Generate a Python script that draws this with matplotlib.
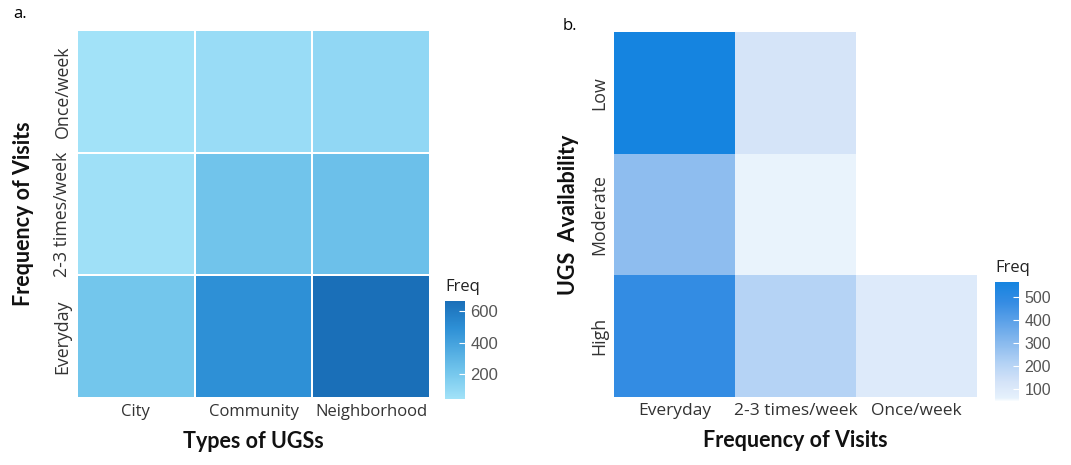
import numpy as np
import matplotlib
matplotlib.use("Agg")
import matplotlib.pyplot as plt
from matplotlib.colors import LinearSegmentedColormap

# ---- Data panel a ----
ugs_types = ["City", "Community", "Neighborhood"]
visit_freq_a = ["Everyday", "2-3 times/week", "Once/week"]  # bottom to top
freq_a_everyday = [215, 490, 663]
freq_a_23 = [55, 225, 245]
freq_a_once = [45, 80, 110]

# ---- Data panel b ----
visit_freq_b = ["Everyday", "2-3 times/week", "Once/week"]
availability = ["High", "Moderate", "Low"]  # bottom to top
freq_b_high = [480, 210, 100]
freq_b_moderate = [290, 62, np.nan]
freq_b_low = [564, 130, np.nan]
freq_b_scale_min = 50

W, H = 1071, 465
fig = plt.figure(figsize=(W / 100, H / 100), dpi=100)

def px_axes(x0, y0, x1, y1):
    return fig.add_axes([x0 / W, (H - y1) / H, (x1 - x0) / W, (y1 - y0) / H])

xtick_font = dict(family="Open Sans", size=12, color="#333333")
ytick_font = dict(family="Open Sans", size=12.8, color="#333333")
title_font = dict(family="Lato", size=15.5, weight="bold", color="#111111")

# ---- Panel a ----
cmap_a = LinearSegmentedColormap.from_list(
    "a", [(0.0, "#a2e2f8"), (0.3, "#6fc3eb"), (0.72, "#2e90d6"), (1.0, "#1a6fb8")])
Za = np.array([freq_a_everyday, freq_a_23, freq_a_once])
axa = px_axes(77, 30, 430, 398)
ma = axa.pcolormesh(np.arange(len(ugs_types) + 1), np.arange(len(visit_freq_a) + 1), Za,
                    cmap=cmap_a, vmin=np.nanmin(Za), vmax=np.nanmax(Za),
                    edgecolors="white", linewidth=1.3)
axa.set_xlim(0, len(ugs_types)); axa.set_ylim(0, len(visit_freq_a))
axa.set_xticks(np.arange(len(ugs_types)) + 0.5)
axa.set_xticklabels(ugs_types, **xtick_font)
axa.set_yticks(np.arange(len(visit_freq_a)) + 0.5)
axa.set_yticklabels(visit_freq_a, rotation=90, va="center", **ytick_font)
axa.tick_params(length=0, pad=4)
for s in axa.spines.values():
    s.set_visible(False)
axa.set_xlabel("Types of UGSs", labelpad=8, **title_font)
axa.set_ylabel("Frequency of Visits", labelpad=14, **title_font)

caxa = px_axes(445, 301, 465, 399)
cba = fig.colorbar(ma, cax=caxa, ticks=[200, 400, 600])
cba.outline.set_visible(False)
caxa.tick_params(length=4, color="white", direction="in", labelsize=12, labelcolor="#555555", pad=4)
for t in caxa.get_yticklabels():
    t.set_family("Liberation Sans")
caxa.text(0, 1.06, "Freq", transform=caxa.transAxes, ha="left", va="bottom",
          family="Open Sans", size=12, color="#222222")

fig.text(13 / W, 1 - 14 / H, "a.", family="Open Sans", size=12, va="center")

# ---- Panel b ----
cmap_b = LinearSegmentedColormap.from_list(
    "b", [(0.0, "#fbfdff"), (0.023, "#e6f1fc"), (0.16, "#d4e3f8"), (0.31, "#b5d3f5"),
          (0.46, "#90beef"), (0.83, "#358ce3"), (1.0, "#1584e0")])
Zb = np.array([freq_b_high, freq_b_moderate, freq_b_low])
axb = px_axes(614, 32, 977, 397)
mb = axb.pcolormesh(np.arange(len(visit_freq_b) + 1), np.arange(len(availability) + 1),
                    np.ma.masked_invalid(Zb), cmap=cmap_b,
                    vmin=freq_b_scale_min, vmax=np.nanmax(Zb), edgecolors="none")
axb.set_xlim(0, len(visit_freq_b)); axb.set_ylim(0, len(availability))
axb.set_xticks(np.arange(len(visit_freq_b)) + 0.5)
axb.set_xticklabels(visit_freq_b, size=12.5, family="Open Sans", color="#333333")
axb.set_yticks(np.arange(len(availability)) + 0.5)
axb.set_yticklabels(availability, rotation=90, va="center", **ytick_font)
axb.tick_params(length=0, pad=4)
for s in axb.spines.values():
    s.set_visible(False)
axb.set_xlabel("Frequency of Visits", labelpad=8, **title_font)
axb.set_ylabel("UGS  Availability", labelpad=8, **title_font)

caxb = px_axes(995, 282, 1019, 401)
cbb = fig.colorbar(mb, cax=caxb, ticks=[100, 200, 300, 400, 500])
cbb.outline.set_visible(False)
caxb.tick_params(length=4, color="white", direction="in", labelsize=11.5, labelcolor="#555555", pad=4)
for t in caxb.get_yticklabels():
    t.set_family("Liberation Sans")
caxb.text(0, 1.05, "Freq", transform=caxb.transAxes, ha="left", va="bottom",
          family="Open Sans", size=12, color="#222222")

fig.text(563 / W, 1 - 26 / H, "b.", family="Open Sans", size=12, va="center")

fig.savefig("out.png", dpi=100)
